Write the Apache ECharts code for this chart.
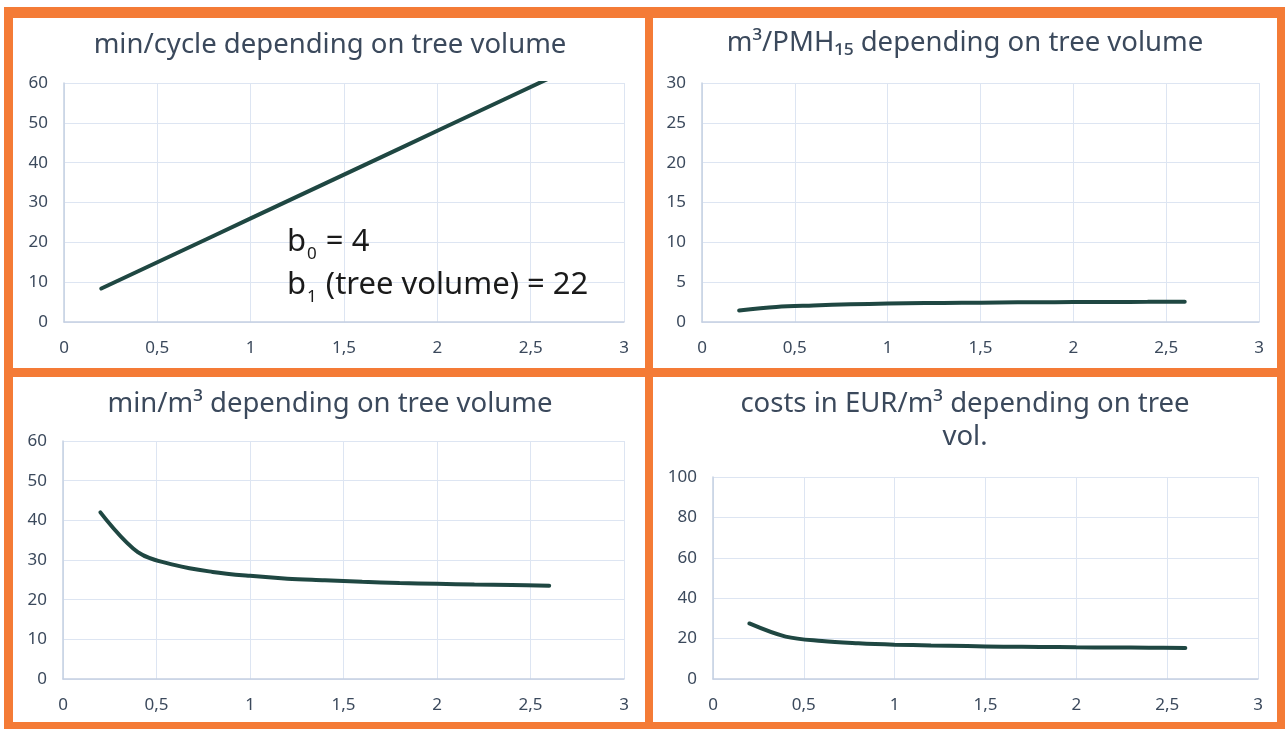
<!DOCTYPE html>
<html>
<head>
<meta charset="utf-8">
<script src="https://cdn.jsdelivr.net/npm/echarts@6/dist/echarts.min.js"></script>
<style>
  html, body { margin: 0; padding: 0; background: #fff; }
  #main { width: 1285px; height: 729px; }
</style>
</head>
<body>
<div id="main"></div>
<script>
// tree volume (m3) on the x axis, every 0.2
const treeVolume = [0.2, 0.4, 0.6, 0.8, 1.0, 1.2, 1.4, 1.6, 1.8, 2.0, 2.2, 2.4, 2.6];

const minPerCycle = [8.4, 12.8, 17.2, 21.6, 26, 30.4, 34.8, 39.2, 43.6, 48, 52.4, 56.8, 61.2];
const m3PerPMH = [1.43, 1.88, 2.07, 2.22, 2.31, 2.37, 2.41, 2.45, 2.48, 2.5, 2.52, 2.53, 2.55];
const minPerM3 = [42, 32, 28.7, 27, 26, 25.3, 24.9, 24.5, 24.2, 24, 23.8, 23.7, 23.5];
const costPerM3 = [27.5, 21, 18.8, 17.7, 17, 16.6, 16.3, 16, 15.9, 15.7, 15.6, 15.5, 15.4];

const titles = [
  'min/cycle depending on tree volume',
  'm³/PMH₁₅ depending on tree volume',
  'min/m³ depending on tree volume',
  'costs in EUR/m³ depending on tree\nvol.'
];
const yMax = [60, 30, 60, 100];
const yStep = [10, 5, 10, 20];

const chart = echarts.init(document.getElementById('main'));

const lineColor = '#1f4742';
const textColor = '#3b495c';
const font = "'Noto Sans', 'Open Sans', sans-serif";
const orange = '#f47b36';

// plot areas of the four panels
const grids = [
  { left: 64, top: 83, width: 560, height: 239 },
  { left: 702, top: 83, width: 557, height: 239 },
  { left: 63, top: 441, width: 561, height: 238 },
  { left: 713, top: 477, width: 545, height: 202 }
];
const titlePos = [
  { x: 330, y: 29 },
  { x: 965, y: 27 },
  { x: 330, y: 388 },
  { x: 965, y: 388 }
];

const pair = arr => treeVolume.map((v, i) => [v, arr[i]]);
const seriesData = [minPerCycle, m3PerPMH, minPerM3, costPerM3];

const xAxes = grids.map((g, i) => ({
  type: 'value',
  gridIndex: i,
  min: 0,
  max: 3,
  interval: 0.5,
  axisLine: { show: true, lineStyle: { color: '#c5d0e2', width: 1.5 } },
  axisTick: { show: false },
  axisLabel: {
    margin: 18,
    fontSize: 17,
    fontFamily: font,
    color: textColor,
    formatter: v => String(v).replace('.', ',')
  },
  splitLine: { show: true, lineStyle: { color: '#dde5f2', width: 1 } }
}));

const yAxes = grids.map((g, i) => ({
  type: 'value',
  gridIndex: i,
  min: 0,
  max: yMax[i],
  interval: yStep[i],
  axisLine: { show: true, lineStyle: { color: '#c5d0e2', width: 1.5 } },
  axisTick: { show: false },
  axisLabel: {
    margin: 16,
    fontSize: 17,
    fontFamily: font,
    color: textColor
  },
  splitLine: { show: true, lineStyle: { color: '#dde5f2', width: 1 } }
}));

const series = seriesData.map((arr, i) => ({
  type: 'line',
  xAxisIndex: i,
  yAxisIndex: i,
  data: pair(arr),
  smooth: i === 0 ? false : 0.35,
  showSymbol: false,
  clip: true,
  lineStyle: { color: lineColor, width: 4, cap: 'round' },
  itemStyle: { color: lineColor }
}));

const title = titles.map((t, i) => ({
  text: t,
  left: titlePos[i].x,
  top: titlePos[i].y,
  textAlign: 'center',
  padding: 0,
  textStyle: {
    fontFamily: font,
    fontSize: 27.5,
    fontWeight: 'normal',
    color: textColor,
    lineHeight: 33
  }
}));

const band = (x, y, w, h) => ({
  type: 'rect',
  shape: { x: x, y: y, width: w, height: h },
  style: { fill: orange },
  silent: true,
  z: 100
});

const noteFont = "'Noto Sans', sans-serif";

chart.setOption({
  backgroundColor: '#ffffff',
  animation: false,
  title: title,
  grid: grids,
  xAxis: xAxes,
  yAxis: yAxes,
  series: series,
  graphic: [
    band(4, 7, 1281, 11),
    band(4, 7, 9, 722),
    band(1277, 7, 8, 722),
    band(4, 722, 1281, 7),
    band(645, 7, 8, 722),
    band(4, 368, 1281, 9),
    {
      type: 'text',
      x: 287,
      y: 221,
      z: 50,
      style: {
        text: '{m|b}{s|0}{m| = 4}\n{m|b}{s|1}{m| (tree volume) = 22}',
        fill: '#1a1a1a',
        font: '31px ' + noteFont,
        rich: {
          m: { fontSize: 31, lineHeight: 43, fontFamily: noteFont, fill: '#1a1a1a' },
          s: { fontSize: 17, padding: [24, 1, 0, 1], fontFamily: noteFont, fill: '#1a1a1a' }
        }
      }
    }
  ]
});
</script>
</body>
</html>
